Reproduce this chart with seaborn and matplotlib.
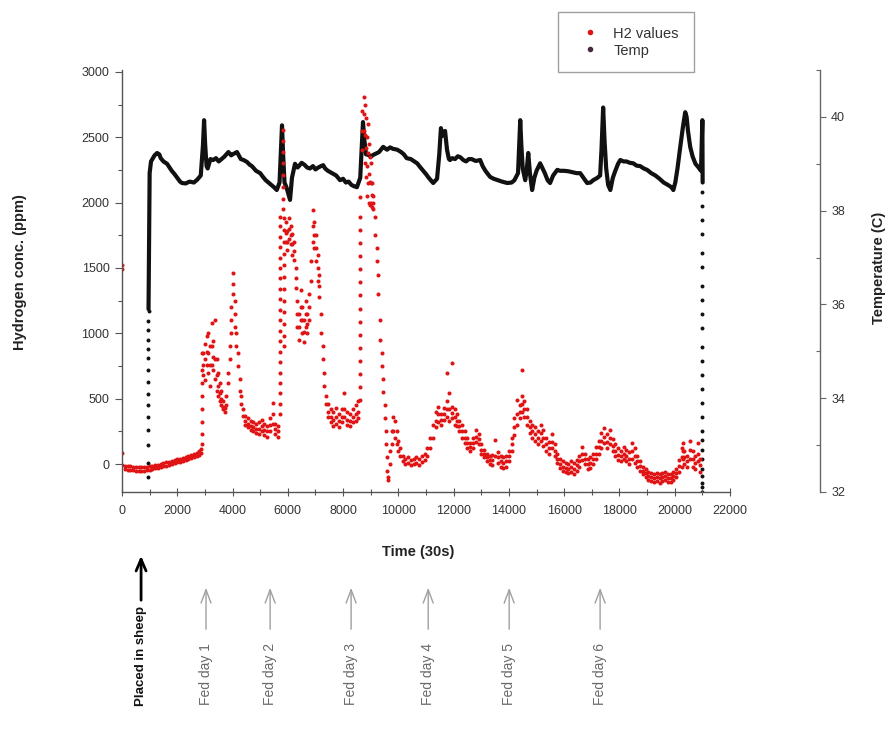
import matplotlib
matplotlib.use("Agg")
import matplotlib.pyplot as plt
import seaborn as sns
import pandas as pd
from matplotlib.lines import Line2D
from matplotlib.ticker import MultipleLocator

# ---------------- data (time in 30 s units) ----------------
# H2 readings: (time, value, value, ...) -> several readings at one time
h2_start = [(0, 1520, 1490, 84, -8), (100, -12, -38), (200, -15, -42), (300, -18, -45),
            (400, -20, -47), (500, -22, -50), (600, -24, -52), (700, -25, -52), (800, -25, -50),
            (900, -22, -48), (1000, -18, -44), (1100, -14, -40), (1200, -10, -34), (1300, -5, -28),
            (1400, 0, -24), (1500, 6, -18), (1600, 12, -12), (1700, 18, -6), (1800, 25, 0),
            (1900, 30, 6), (2000, 36, 12), (2100, 42, 18), (2200, 48, 24), (2300, 55, 30),
            (2400, 62, 38), (2500, 70, 45), (2600, 78, 52), (2700, 88, 60), (2800, 100, 72),
            (2850, 115, 85)]
h2_fed1 = [(2880, 150, 230), (2890, 320, 420), (2900, 520, 620), (2910, 720, 850),
           (2940, 850, 760, 680), (3000, 920, 800, 640), (3060, 980, 860, 760), (3120, 1000, 850, 700),
           (3180, 900, 760, 600), (3240, 1080, 900, 760), (3300, 940, 820, 720), (3360, 1100, 800, 650),
           (3420, 800, 680, 560), (3480, 700, 600, 520), (3540, 620, 540, 480), (3600, 560, 500, 450),
           (3660, 480, 440, 420), (3720, 430, 400), (3780, 450, 520), (3840, 620, 700), (3900, 800, 900),
           (3960, 1000, 1100, 1200), (4020, 1300, 1380, 1460), (4080, 1250, 1150, 1050),
           (4140, 1000, 900), (4200, 850, 750), (4260, 650, 560), (4320, 520, 460), (4380, 420, 370),
           (4450, 370, 330, 300), (4550, 350, 310, 280), (4650, 330, 290, 260), (4750, 320, 280, 250),
           (4850, 310, 270, 240), (4950, 320, 270, 230), (5050, 340, 290, 250), (5150, 310, 260, 220),
           (5250, 290, 250, 210), (5350, 350, 300, 250), (5450, 465, 380, 310), (5550, 310, 270, 230),
           (5650, 290, 250, 210)]
h2_fed2 = [(5720, 380, 460, 540, 620, 700, 780, 860, 940, 1020, 1100, 1180, 1260, 1340, 1420,
            1500, 1580, 1660, 1740, 1820, 1890),
           (5840, 2555, 2470, 2390, 2300, 2210, 2120, 2030, 1950),
           (5870, 1880, 1790, 1700, 1610, 1520, 1430, 1340, 1250, 1160, 1070, 980, 900),
           (5920, 1850, 1770, 1700), (5980, 1780, 1700, 1640), (6040, 1880, 1800, 1720),
           (6100, 1820, 1750, 1680), (6160, 1760, 1680, 1600), (6220, 1700, 1630, 1560),
           (6280, 1500, 1420, 1350), (6340, 1250, 1150, 1050), (6400, 1150, 1050, 950),
           (6460, 1330, 1200, 1100), (6520, 1200, 1100, 1000), (6580, 1100, 1010, 930),
           (6640, 1250, 1150, 1050), (6700, 1150, 1070, 1000), (6760, 1300, 1200, 1100),
           (6850, 1400, 1550), (6900, 1700, 1820, 1945), (6960, 1850, 1750, 1650),
           (7020, 1750, 1650, 1550), (7080, 1600, 1500, 1400), (7140, 1450, 1360, 1280),
           (7200, 1150, 1000), (7260, 900, 800), (7320, 700, 600), (7380, 520, 460),
           (7450, 460, 400, 360), (7550, 420, 360, 320), (7650, 400, 340, 290), (7750, 430, 360, 310),
           (7850, 380, 330, 280), (7950, 420, 360, 320), (8050, 540, 420, 360), (8150, 400, 340, 300),
           (8250, 380, 330, 290), (8350, 420, 360, 320), (8450, 450, 380, 330), (8550, 480, 400, 350)]
h2_fed3 = [(8620, 490, 590, 690, 790, 890, 990, 1090, 1190, 1290, 1390, 1490, 1590, 1690, 1790,
            1890, 2045),
           (8700, 2400, 2550, 2700), (8740, 2810, 2680, 2550), (8780, 2750, 2520, 2300),
           (8820, 2650, 2420, 2200), (8860, 2500, 2280, 2050), (8900, 2600, 2380, 2150),
           (8940, 2450, 2220, 2000), (8980, 2350, 2160, 1980), (9020, 2300, 2150, 2000),
           (9060, 2150, 2060, 1970), (9100, 2050, 2000, 1950),
           (9150, 1890, 1750), (9220, 1650, 1550), (9280, 1450, 1300), (9340, 1100, 950),
           (9400, 850, 750), (9450, 650, 550), (9500, 450, 350), (9550, 250, 150), (9600, 50, -50),
           (9640, -100, -120), (9700, 100, 0), (9760, 250, 150), (9820, 360, 250), (9880, 330, 200),
           (9940, 250, 150), (10000, 180, 100), (10060, 120, 60), (10150, 60, 20), (10250, 40, 0),
           (10350, 50, 10), (10450, 30, -10), (10550, 40, 0), (10650, 50, 10), (10750, 40, -5),
           (10850, 60, 15), (10950, 80, 30), (11050, 120, 60)]
h2_fed4 = [(11150, 200, 120), (11250, 300, 200), (11350, 400, 330, 280), (11450, 440, 380, 320),
           (11550, 380, 340, 300), (11650, 430, 380, 340), (11750, 695, 480, 420, 360),
           (11850, 540, 420, 330), (11950, 770, 440, 390, 350), (12050, 420, 360, 300),
           (12130, 380, 330, 290), (12200, 330, 290, 250), (12300, 300, 250, 200),
           (12400, 250, 200, 160), (12500, 200, 160, 120), (12600, 160, 130, 100),
           (12700, 200, 160, 120), (12800, 260, 210, 170), (12900, 230, 190, 150),
           (13000, 150, 110, 80), (13100, 110, 80, 50), (13200, 80, 50, 20), (13300, 60, 30, 0),
           (13400, 70, 30, -10), (13500, 185, 60), (13600, 90, 50, 10), (13700, 60, 20, -20),
           (13800, 50, 10, -30), (13900, 60, 20, -20), (14000, 100, 60, 20), (14100, 200, 150, 100)]
h2_fed5 = [(14200, 350, 280, 220), (14300, 490, 380, 300), (14400, 450, 400, 350),
           (14480, 720, 520, 460, 400), (14560, 480, 420, 360), (14650, 420, 360, 300),
           (14750, 330, 280, 240), (14850, 300, 250, 200), (14950, 280, 230, 180),
           (15050, 250, 200, 150), (15150, 300, 240, 180), (15250, 260, 200, 140),
           (15350, 200, 150, 100), (15450, 170, 120, 80), (15550, 230, 170, 120),
           (15650, 150, 100, 60), (15750, 80, 40, 10), (15850, 40, 0, -30), (15950, 20, -20, -50),
           (16050, 10, -30, -60), (16150, 0, -35, -70), (16250, 20, -20, -60), (16350, 10, -35, -80),
           (16450, 30, -10, -50), (16550, 60, 20, -20), (16650, 130, 80, 30), (16750, 80, 40, 0),
           (16850, 40, 0, -40), (16950, 50, 10, -30), (17050, 80, 40, 0), (17150, 130, 80, 40)]
h2_fed6 = [(17250, 180, 130, 80), (17350, 240, 180, 120), (17450, 275, 210, 160),
           (17550, 230, 170, 120), (17650, 260, 200, 150), (17750, 190, 140, 100),
           (17850, 150, 100, 60), (17950, 120, 70, 30), (18050, 100, 60, 20), (18150, 130, 80, 40),
           (18250, 110, 60, 20), (18350, 90, 40, 0), (18450, 160, 100, 40), (18550, 120, 60, 10),
           (18650, 60, 20, -20), (18750, 20, -15, -50), (18850, -20, -50, -80),
           (18950, -40, -70, -100), (19050, -60, -90, -120), (19150, -70, -100, -130),
           (19250, -80, -110, -140), (19350, -70, -100, -130), (19450, -80, -110, -145),
           (19550, -70, -100, -130), (19650, -60, -90, -120), (19750, -75, -105, -140),
           (19850, -80, -110, -135), (19950, -60, -90, -120), (20050, -40, -70, -100),
           (20150, 30, -15, -60), (20250, 120, 50, -20), (20300, 160, 100, 40), (20350, 100, 50, 0),
           (20450, 60, 20, -20), (20550, 180, 110, 40), (20650, 100, 40, -20), (20750, 60, 10, -40),
           (20850, 160, 80, 20), (20900, 40, -10, -60)]

# Temperature (C): continuous trace while in the sheep
temp_line = [(960, 35.9), (975, 37.0), (985, 38.0), (1000, 38.8), (1050, 39.05), (1100, 39.1),
             (1180, 39.18), (1270, 39.23), (1350, 39.2), (1400, 39.12), (1500, 39.05), (1630, 39.0),
             (1720, 38.92), (1800, 38.85), (1900, 38.78), (2000, 38.7), (2100, 38.62), (2170, 38.59),
             (2300, 38.58), (2450, 38.62), (2600, 38.6), (2720, 38.66), (2850, 38.75), (2930, 39.4),
             (2970, 39.93), (3010, 39.4), (3060, 38.95), (3100, 38.9), (3200, 39.1), (3300, 39.08),
             (3400, 39.12), (3500, 39.05), (3600, 39.1), (3700, 39.15), (3850, 39.25), (3950, 39.18),
             (4000, 39.2), (4160, 39.25), (4300, 39.1), (4400, 39.08), (4520, 39.04), (4620, 38.98),
             (4700, 38.95), (4850, 38.85), (5000, 38.8), (5100, 38.72), (5200, 38.65), (5300, 38.6),
             (5400, 38.55), (5500, 38.5), (5600, 38.44), (5700, 38.6), (5750, 39.3), (5790, 39.82),
             (5830, 39.2), (5880, 38.6), (5950, 38.5), (6080, 38.23), (6150, 38.7), (6260, 39.0),
             (6350, 38.92), (6400, 38.95), (6500, 39.02), (6600, 38.98), (6700, 38.92), (6800, 38.9),
             (6910, 38.95), (7000, 38.88), (7100, 38.92), (7200, 38.95), (7280, 38.97), (7350, 38.9),
             (7450, 38.85), (7600, 38.8), (7750, 38.75), (7890, 38.65), (8000, 38.68), (8100, 38.6),
             (8200, 38.62), (8300, 38.55), (8400, 38.52), (8500, 38.5), (8620, 38.7), (8680, 39.4),
             (8720, 39.89), (8770, 39.5), (8830, 39.2), (8900, 39.2), (9000, 39.15), (9090, 39.19),
             (9200, 39.22), (9300, 39.25), (9450, 39.36), (9590, 39.3), (9700, 39.35), (9800, 39.32),
             (9960, 39.3), (10100, 39.25), (10200, 39.2), (10300, 39.12), (10450, 39.1),
             (10580, 39.05), (10680, 39.01), (10800, 38.92), (10900, 38.85), (11000, 38.78),
             (11100, 38.7), (11260, 38.59), (11400, 38.68), (11480, 39.2), (11540, 39.76),
             (11600, 39.6), (11690, 39.7), (11760, 39.3), (11830, 39.1), (11870, 39.08),
             (11950, 39.12), (12050, 39.1), (12150, 39.16), (12240, 39.14), (12350, 39.08),
             (12450, 39.05), (12550, 39.1), (12650, 39.1), (12800, 39.06), (12960, 39.08),
             (13050, 38.95), (13150, 38.85), (13320, 38.72), (13450, 38.68), (13600, 38.65),
             (13750, 38.62), (13940, 38.59), (14100, 38.6), (14200, 38.65), (14330, 38.8),
             (14380, 39.5), (14410, 39.93), (14450, 39.4), (14500, 38.9), (14590, 38.65),
             (14650, 38.9), (14700, 39.23), (14760, 38.8), (14840, 38.44), (14920, 38.7),
             (15000, 38.85), (15130, 39.01), (15220, 38.9), (15300, 38.8), (15400, 38.65),
             (15490, 38.59), (15600, 38.75), (15750, 38.87), (15850, 38.85), (16000, 38.85),
             (16150, 38.84), (16300, 38.82), (16450, 38.8), (16580, 38.8), (16700, 38.7),
             (16830, 38.59), (16950, 38.6), (17050, 38.65), (17200, 38.7), (17300, 38.75),
             (17350, 39.3), (17410, 40.2), (17460, 39.5), (17520, 38.9), (17590, 38.55),
             (17670, 38.44), (17760, 38.7), (17850, 38.85), (17950, 39.0), (18030, 39.08),
             (18150, 39.05), (18250, 39.05), (18380, 39.02), (18500, 39.01), (18620, 38.96),
             (18750, 38.95), (18880, 38.9), (19000, 38.87), (19150, 38.8), (19300, 38.75),
             (19450, 38.68), (19600, 38.6), (19750, 38.55), (19880, 38.5), (19950, 38.44),
             (20020, 38.6), (20100, 38.9), (20200, 39.36), (20300, 39.8), (20380, 40.1),
             (20430, 40.0), (20480, 39.7), (20560, 39.36), (20650, 39.15), (20750, 39.0),
             (20850, 38.93), (20950, 38.85), (21000, 39.93), (21010, 38.6)]
# Temperature readings while entering / leaving the sheep
temp_rise = [(945, 32.32), (945, 32.62), (947, 33.0), (947, 33.32), (949, 33.6), (949, 33.85),
             (951, 34.1), (951, 34.35), (953, 34.6), (953, 34.85), (955, 35.05), (955, 35.25),
             (957, 35.45), (957, 35.65), (959, 35.85)]
temp_drop = [(20985, 38.4), (20985, 38.1), (20985, 37.8), (20985, 37.5), (20985, 37.1),
             (20985, 36.8), (20985, 36.4), (20985, 36.1), (20985, 35.8), (20985, 35.5),
             (20985, 35.1), (20985, 34.8), (20985, 34.5), (20985, 34.2), (20985, 33.9),
             (20985, 33.6), (20985, 33.3), (20985, 33.1), (20985, 32.9), (20985, 32.7),
             (20985, 32.5), (20985, 32.35), (20985, 32.2), (20985, 32.1), (20985, 32.0)]

placed_time = 690
fed_times = [3040, 5360, 8290, 11080, 14010, 17300]
fed_labels = ["Fed day 1", "Fed day 2", "Fed day 3", "Fed day 4", "Fed day 5", "Fed day 6"]


def flatten(segments):
    rows = []
    for seg in segments:
        for tup in seg:
            for v in tup[1:]:
                rows.append((tup[0], v))
    return rows


h2_df = pd.DataFrame(flatten([h2_start, h2_fed1, h2_fed2, h2_fed3, h2_fed4, h2_fed5, h2_fed6]),
                     columns=["time", "ppm"])
temp_line_df = pd.DataFrame(temp_line, columns=["time", "temp"])
temp_dot_df = pd.DataFrame(temp_rise + temp_drop, columns=["time", "temp"])

# ---------------- plotting ----------------
sns.set_theme(style="white")
plt.rcParams["font.family"] = ["Liberation Sans", "DejaVu Sans"]

RED = "#e01414"
BLACK = "#111111"
SPINE = "#555555"

W, H = 890, 733
fig = plt.figure(figsize=(W / 100, H / 100), dpi=100)
ax = fig.add_axes([122 / W, 1 - 492 / H, 608 / W, 422 / H])
ax2 = ax.twinx()

sns.lineplot(data=temp_line_df, x="time", y="temp", ax=ax2, color=BLACK, linewidth=3.0,
             estimator=None, sort=False, errorbar=None, legend=False)
sns.scatterplot(data=temp_dot_df, x="time", y="temp", ax=ax2, color=BLACK, s=8,
                linewidth=0, legend=False)
sns.scatterplot(data=h2_df, x="time", y="ppm", ax=ax, color=RED, s=8.5, linewidth=0,
                legend=False)

ax.set_zorder(ax2.get_zorder() + 1)
ax.patch.set_visible(False)

ax.set_xlim(0, 22000)
ax.set_ylim(-214, 3015)
ax2.set_ylim(32, 41)

for s in ["top", "right"]:
    ax.spines[s].set_visible(False)
for s in ["left", "bottom"]:
    ax.spines[s].set_color(SPINE)
    ax.spines[s].set_linewidth(1.0)
for s in ["top", "left", "bottom"]:
    ax2.spines[s].set_visible(False)
ax2.spines["right"].set_position(("axes", 698 / 608))
ax2.spines["right"].set_color("#666666")
ax2.spines["right"].set_linewidth(1.0)

ax.xaxis.set_major_locator(MultipleLocator(2000))
ax.xaxis.set_minor_locator(MultipleLocator(1000))
ax.yaxis.set_major_locator(MultipleLocator(500))
ax.yaxis.set_minor_locator(MultipleLocator(250))
ax2.yaxis.set_major_locator(MultipleLocator(2))
ax2.yaxis.set_minor_locator(MultipleLocator(1))

ax.tick_params(axis="x", which="major", bottom=True, direction="inout", length=6, width=0.8,
               color=SPINE, labelsize=9, labelcolor="#333333", pad=6)
ax.tick_params(axis="x", which="minor", bottom=True, direction="inout", length=5, width=0.8,
               color=SPINE)
ax.tick_params(axis="y", which="major", left=True, direction="out", length=5, width=0.8,
               color=SPINE, labelsize=9, labelcolor="#333333", pad=4)
ax.tick_params(axis="y", which="minor", left=True, direction="out", length=3, width=0.8,
               color=SPINE)
ax2.tick_params(axis="y", which="major", right=True, direction="out", length=4, width=0.8,
                color="#666666", labelsize=9, labelcolor="#333333", pad=4)
ax2.tick_params(axis="y", which="minor", right=True, direction="in", length=3, width=0.8,
                color="#666666")

ax.set_xlabel("Time (30s)", fontsize=10.5, fontweight="bold", color="#222222")
ax.xaxis.set_label_coords((418 - 122) / 608, (492 - 545) / 422)
ax.set_ylabel("Hydrogen conc. (ppm)", fontsize=10.5, fontweight="bold", color="#222222")
ax.yaxis.set_label_coords((27 - 122) / 608, (492 - 272) / 422)
ax2.set_ylabel("Temperature (C)", fontsize=10.5, fontweight="bold", color="#222222",
               rotation=90)
ax2.yaxis.set_label_coords((872 - 122) / 608, (492 - 268) / 422)

# event annotations below the axis
coords = ("data", "figure fraction")
ax.annotate("", xy=(placed_time, 1 - 553 / H), xytext=(placed_time, 1 - 603 / H),
            xycoords=coords, textcoords=coords, annotation_clip=False,
            arrowprops=dict(arrowstyle="->,head_length=0.7,head_width=0.3", color="black", lw=2))
ax.annotate("Placed in sheep", xy=(placed_time, 1 - 706 / H), xycoords=coords,
            rotation=90, ha="center", va="bottom", fontsize=9.5, fontweight="bold",
            color="#111111", annotation_clip=False)
for t, lab in zip(fed_times, fed_labels):
    ax.annotate("", xy=(t, 1 - 585 / H), xytext=(t, 1 - 632 / H),
                xycoords=coords, textcoords=coords, annotation_clip=False,
                arrowprops=dict(arrowstyle="->,head_length=0.8,head_width=0.3",
                                color="#a0a0a0", lw=1.0))
    ax.annotate(lab, xy=(t, 1 - 705 / H), xycoords=coords, rotation=90, ha="center",
                va="bottom", fontsize=10, color="#6a6a6a", annotation_clip=False)

handles = [Line2D([], [], ls="", marker="o", ms=3, color=RED, label="H2 values"),
           Line2D([], [], ls="", marker="o", ms=3, color="#4a2a40", label="Temp")]
leg = fig.legend(handles=handles, loc="upper left", bbox_to_anchor=(558 / W, 1 - 12 / H),
                 frameon=True, fancybox=False, edgecolor="#888888", fontsize=10.5,
                 borderpad=1.0, handletextpad=0.4, labelspacing=0.2, handlelength=2.4,
                 borderaxespad=0)
leg.get_frame().set_linewidth(1.0)
for txt in leg.get_texts():
    txt.set_color("#333333")

fig.savefig("out.png", dpi=100)
